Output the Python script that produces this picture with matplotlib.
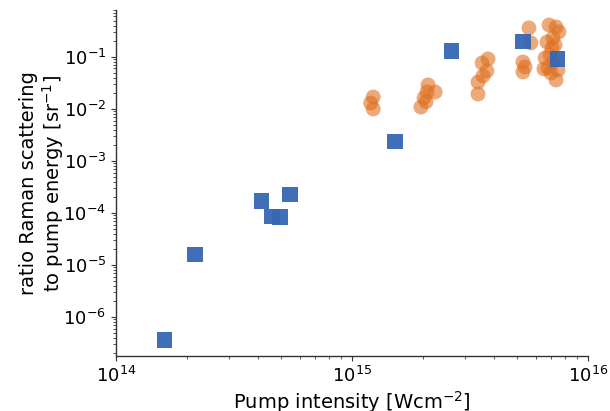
import matplotlib
matplotlib.use("Agg")
import matplotlib.pyplot as plt

# Blue squares
sq_x = [1.61e14, 2.16e14, 4.15e14, 4.58e14, 4.95e14, 5.46e14, 1.52e15, 2.65e15, 5.30e15, 7.40e15]
sq_y = [3.6e-7, 1.62e-5, 1.7e-4, 8.7e-5, 8.4e-5, 2.3e-4, 2.4e-3, 0.13, 0.20, 0.091]

# Orange circles
ci_x = [1.23e15, 1.20e15, 1.23e15,
        2.10e15, 2.25e15, 2.08e15, 2.02e15, 2.06e15, 1.96e15,
        3.77e15, 3.56e15, 3.73e15, 3.59e15, 3.42e15, 3.42e15,
        5.62e15, 5.73e15, 5.30e15, 5.41e15, 5.30e15,
        6.84e15, 7.32e15, 7.53e15, 7.11e15, 6.70e15, 7.25e15, 7.04e15, 6.90e15,
        7.11e15, 6.58e15, 6.77e15, 6.51e15, 6.97e15, 7.46e15, 7.32e15]
ci_y = [0.0170, 0.0130, 0.0100,
        0.0290, 0.0212, 0.0212, 0.0163, 0.0138, 0.0109,
        0.0916, 0.0767, 0.0538, 0.0431, 0.0330, 0.0194,
        0.362, 0.186, 0.080, 0.0643, 0.0515,
        0.412, 0.378, 0.303, 0.232, 0.194, 0.170, 0.149, 0.109,
        0.080, 0.0957, 0.0614, 0.0588, 0.0493, 0.0562, 0.0361]

fig = plt.figure(figsize=(6.10, 4.11), dpi=100)
ax = fig.add_axes([0.1902, 0.1338, 0.7737, 0.8419])

ax.scatter(ci_x, ci_y, s=115, marker='o', color='#e07020', alpha=0.6,
           edgecolors='none', zorder=2)
ax.scatter(sq_x, sq_y, s=120, marker='s', color='#3567b3', alpha=0.95,
           edgecolors='none', zorder=3)

ax.set_xscale('log')
ax.set_yscale('log')
ax.set_xlim(1e14, 1e16)
ax.set_ylim(1.78e-7, 0.80)

ax.spines['top'].set_visible(False)
ax.spines['right'].set_visible(False)
for sp in ['left', 'bottom']:
    ax.spines[sp].set_color('#333333')
    ax.spines[sp].set_linewidth(1.0)

ax.tick_params(axis='both', which='major', labelsize=13, length=3.5, color='#333333')
ax.tick_params(axis='both', which='minor', length=2, color='#333333')

ax.set_xlabel('Pump intensity [Wcm$^{-2}$]', fontsize=14, labelpad=2)
ax.set_ylabel('ratio Raman scattering\nto pump energy [sr$^{-1}$]', fontsize=14,
              labelpad=-2, linespacing=1.1)

fig.savefig('out.png', dpi=100)
